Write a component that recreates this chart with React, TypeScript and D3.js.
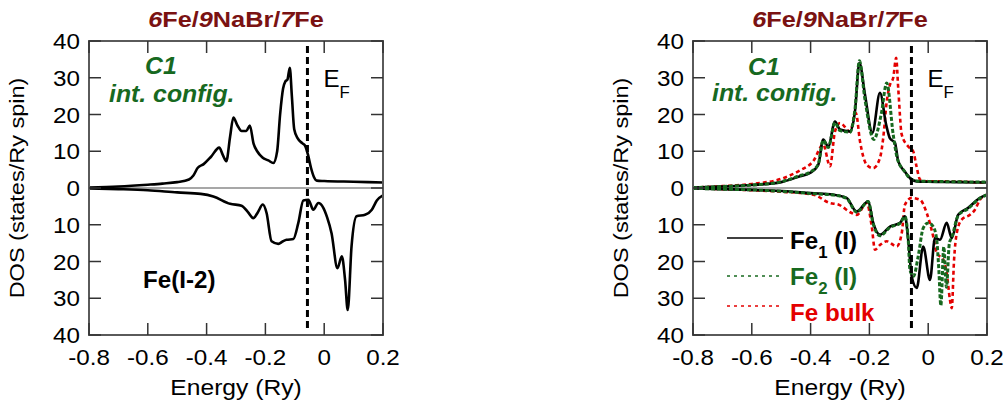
import React from "react";
import * as d3 from "d3";

const FONT = "'Liberation Sans', Arial, Helvetica, sans-serif";
const GREEN = "#17691f";
const RED = "#e40000";
const TITLE = "#7a1212";

const xTicks = [-0.8, -0.6, -0.4, -0.2, 0, 0.2];
const xTickLabels = ["-0.8", "-0.6", "-0.4", "-0.2", "0", "0.2"];
const yTicks = [40, 30, 20, 10, 0, -10, -20, -30, -40];
const yTickLabels = ["40", "30", "20", "10", "0", "10", "20", "30", "40"];
const eFermi = -0.057;

// left panel, Fe(I-2)
const leftUpE = [-0.8, -0.7, -0.6, -0.55, -0.5, -0.46, -0.445, -0.43, -0.41, -0.385, -0.357, -0.345, -0.333, -0.32, -0.309, -0.295, -0.281, -0.265, -0.253, -0.24, -0.228, -0.21, -0.19, -0.173, -0.16, -0.15, -0.14, -0.132, -0.125, -0.117, -0.11, -0.102, -0.09, -0.075, -0.065, -0.055, -0.045, -0.035, -0.025, 0, 0.1, 0.2];
const leftUpV = [0.1, 0.4, 0.9, 1.2, 1.6, 2.3, 3.4, 5.5, 6.5, 8.5, 11, 9, 7.3, 14, 19.2, 17, 15.5, 15.5, 17, 12, 10, 8.3, 7.5, 6.8, 10, 20, 27, 29, 29.5, 32.7, 25, 16, 13.5, 12.2, 11.5, 9, 5.5, 3, 2, 1.9, 1.7, 1.5];
const leftDnE = [-0.8, -0.7, -0.6, -0.5, -0.42, -0.377, -0.32, -0.281, -0.26, -0.241, -0.225, -0.209, -0.196, -0.179, -0.156, -0.14, -0.128, -0.105, -0.088, -0.071, -0.054, -0.037, -0.02, -0.003, 0.01, 0.025, 0.045, 0.06, 0.071, 0.08, 0.093, 0.11, 0.139, 0.162, 0.179, 0.2];
const leftDnV = [0.1, 0.3, 0.6, 1.2, 1.6, 2.3, 4.3, 4.8, 6.5, 8.2, 6.5, 4.5, 6.8, 14.5, 15.2, 14.5, 14.1, 13.9, 9.5, 3.4, 3.2, 5.9, 4.1, 5.4, 8, 12.3, 21.8, 18.6, 25, 33.2, 15.9, 7.7, 7.3, 5.9, 3.4, 2];

// right panel: Fe1 (I)
const fe1UpE = [-0.8, -0.7, -0.6, -0.5, -0.436, -0.402, -0.374, -0.357, -0.34, -0.317, -0.3, -0.266, -0.249, -0.234, -0.215, -0.19, -0.164, -0.143, -0.13, -0.113, -0.102, -0.08, -0.062, -0.039, 0, 0.1, 0.2];
const fe1UpV = [0.1, 0.4, 0.8, 1.6, 3.2, 4.1, 6.3, 13.2, 11.3, 18.1, 15.9, 15.4, 20.9, 34.1, 25.4, 15, 25.9, 17.2, 13.5, 12.3, 7.3, 4.5, 2.7, 1.8, 1.7, 1.6, 1.5];
const fe1DnE = [-0.8, -0.7, -0.6, -0.48, -0.4, -0.324, -0.278, -0.243, -0.204, -0.187, -0.164, -0.13, -0.096, -0.079, -0.068, -0.056, -0.039, -0.017, 0.006, 0.023, 0.04, 0.063, 0.08, 0.102, 0.136, 0.176, 0.2];
const fe1DnV = [0.1, 0.3, 0.5, 0.9, 1.4, 1.8, 2.7, 6.4, 3.6, 9.5, 12.7, 10.5, 9.5, 7.7, 14.1, 24.1, 27.2, 15.9, 25, 13.6, 14.1, 9.5, 13.6, 7.3, 5.4, 2.7, 1.8];

// Fe2 (I)
const fe2UpE = [-0.8, -0.7, -0.6, -0.5, -0.436, -0.402, -0.374, -0.357, -0.34, -0.317, -0.3, -0.266, -0.249, -0.234, -0.215, -0.185, -0.16, -0.141, -0.119, -0.105, -0.08, -0.062, -0.039, 0, 0.1, 0.2];
const fe2UpV = [0.1, 0.4, 0.8, 1.7, 3.4, 4.3, 6.5, 13, 11, 17.8, 15.6, 15.2, 21.5, 34.6, 24, 13.2, 20, 28.6, 14.5, 8, 4.5, 2.6, 1.9, 1.8, 1.7, 1.6];
const fe2DnE = [-0.8, -0.7, -0.6, -0.48, -0.4, -0.324, -0.278, -0.243, -0.204, -0.187, -0.164, -0.13, -0.096, -0.079, -0.068, -0.062, -0.05, -0.034, -0.017, 0, 0.017, 0.029, 0.036, 0.043, 0.053, 0.062, 0.072, 0.08, 0.102, 0.136, 0.176, 0.2];
const fe2DnV = [0.1, 0.3, 0.5, 1, 1.5, 1.9, 2.8, 6.6, 3.7, 9.8, 13, 10.7, 9.6, 7.8, 14, 22.3, 24, 18.6, 10.9, 9.5, 10.5, 14.1, 22, 32, 16, 27, 15, 13.5, 7.5, 5.6, 2.8, 1.9];

// Fe bulk
const bulkUpE = [-0.8, -0.7, -0.6, -0.5, -0.436, -0.391, -0.357, -0.334, -0.317, -0.3, -0.266, -0.246, -0.232, -0.209, -0.187, -0.164, -0.153, -0.141, -0.13, -0.119, -0.109, -0.102, -0.09, -0.068, -0.051, -0.04, -0.028, -0.015, 0.05, 0.2];
const bulkUpV = [0.1, 0.5, 1.1, 2.5, 4.8, 7.3, 11.8, 5.9, 15.4, 17.7, 15.4, 20.4, 12.7, 6.3, 5.4, 8.2, 13.6, 23.6, 28.1, 30, 35.4, 27.2, 14.5, 11.3, 10, 6, 2.3, 1.8, 1.8, 1.4];
const bulkDnE = [-0.8, -0.7, -0.6, -0.5, -0.391, -0.334, -0.306, -0.26, -0.243, -0.209, -0.192, -0.181, -0.164, -0.141, -0.107, -0.09, -0.079, -0.056, -0.028, -0.005, 0.017, 0.029, 0.051, 0.063, 0.074, 0.08, 0.088, 0.097, 0.114, 0.142, 0.159, 0.176, 0.2];
const bulkDnV = [0.1, 0.3, 0.6, 1, 1.8, 4.1, 4.5, 6.8, 7.3, 4.1, 10.5, 16.8, 15.5, 14.5, 15.9, 12.3, 4.5, 2.7, 3.2, 6.8, 13.2, 17.7, 19.5, 23.2, 30.4, 32.7, 19.5, 12.3, 8.6, 7.3, 5.9, 3.2, 1.8];

type Series = { e: number[]; v: number[]; sign: number; color: string; width: number; dash?: string };

const TOP = 41;
const BOTTOM = 335;

const Txt = ({ x, y, size, children, anchor = "start", weight = "normal", italic = false, fill = "#000", sx = 1, rotate = 0 }: any) => (
  <text
    transform={`translate(${x},${y}) rotate(${rotate}) scale(${sx},1)`}
    fontFamily={FONT}
    fontSize={size}
    fontWeight={weight}
    fontStyle={italic ? "italic" : "normal"}
    textAnchor={anchor}
    fill={fill}
  >
    {children}
  </text>
);

const Panel = ({ left, right, series, children }: { left: number; right: number; series: Series[]; children?: any }) => {
  const x = d3.scaleLinear().domain([-0.8, 0.2]).range([left, right]);
  const y = d3.scaleLinear().domain([-40, 40]).range([BOTTOM, TOP]);
  const cx = (left + right) / 2;
  const tick = 12;

  return (
    <g>
      <defs>
        <clipPath id={`clip${left}`}>
          <rect x={left} y={TOP} width={right - left} height={BOTTOM - TOP} />
        </clipPath>
      </defs>
      {/* title */}
      <Txt x={cx} y={27} size={22} weight="bold" anchor="middle" fill={TITLE} sx={1.15}>
        <tspan fontStyle="italic">6</tspan>Fe/<tspan fontStyle="italic">9</tspan>NaBr/<tspan fontStyle="italic">7</tspan>Fe
      </Txt>
      {/* zero line */}
      <line x1={left} x2={right} y1={y(0)} y2={y(0)} stroke="#8a8a8a" strokeWidth={1.5} />
      {/* curves */}
      <g clipPath={`url(#clip${left})`}>
        {series.map((s, k) => {
          const path = d3
            .line<number>()
            .x((d, i) => x(s.e[i]))
            .y((d) => y(s.sign * d))
            .curve(d3.curveMonotoneX)(s.v);
          return (
            <path key={k} d={path || ""} fill="none" stroke={s.color} strokeWidth={s.width} strokeDasharray={s.dash} strokeLinejoin="round" />
          );
        })}
      </g>
      {/* Fermi level */}
      <line x1={x(eFermi)} x2={x(eFermi)} y1={46} y2={329} stroke="#000" strokeWidth={3} strokeDasharray="7,4" />
      {/* frame */}
      <rect x={left} y={TOP} width={right - left} height={BOTTOM - TOP} fill="none" stroke="#5a5a5a" strokeWidth={2} />
      {xTicks.map((t, i) => (
        <g key={"x" + i}>
          <line x1={x(t)} x2={x(t)} y1={BOTTOM} y2={BOTTOM - tick} stroke="#333" strokeWidth={1.5} />
          <line x1={x(t)} x2={x(t)} y1={TOP} y2={TOP + tick} stroke="#333" strokeWidth={1.5} />
          <Txt x={x(t)} y={365} size={22} anchor="middle" sx={1.1}>
            {xTickLabels[i]}
          </Txt>
        </g>
      ))}
      {yTicks.map((t, i) => (
        <g key={"y" + i}>
          <line x1={left} x2={left + tick} y1={y(t)} y2={y(t)} stroke="#333" strokeWidth={1.5} />
          <line x1={right} x2={right - tick} y1={y(t)} y2={y(t)} stroke="#333" strokeWidth={1.5} />
          <Txt x={left - 9} y={y(t) + 8} size={22} anchor="end" sx={1.1}>
            {yTickLabels[i]}
          </Txt>
        </g>
      ))}
      <Txt x={cx} y={395} size={22} anchor="middle" sx={1.12}>
        Energy (Ry)
      </Txt>
      <Txt x={left - 65} y={188} size={21} anchor="middle" rotate={-90} sx={1.12}>
        DOS (states/Ry spin)
      </Txt>
      {/* E_F */}
      <Txt x={x(eFermi) + 16} y={87} size={23} sx={1.05}>
        E<tspan dy={11} fontSize={16}>F</tspan>
      </Txt>
      {children}
    </g>
  );
};

export default function App() {
  const leftSeries: Series[] = [
    { e: leftUpE, v: leftUpV, sign: 1, color: "#000", width: 2.6 },
    { e: leftDnE, v: leftDnV, sign: -1, color: "#000", width: 2.6 },
  ];
  const rightSeries: Series[] = [
    { e: bulkUpE, v: bulkUpV, sign: 1, color: RED, width: 2.6, dash: "4,3" },
    { e: bulkDnE, v: bulkDnV, sign: -1, color: RED, width: 2.6, dash: "4,3" },
    { e: fe1UpE, v: fe1UpV, sign: 1, color: "#000", width: 2.6 },
    { e: fe1DnE, v: fe1DnV, sign: -1, color: "#000", width: 2.6 },
    { e: fe2UpE, v: fe2UpV, sign: 1, color: GREEN, width: 3, dash: "4,2" },
    { e: fe2DnE, v: fe2DnV, sign: -1, color: GREEN, width: 3, dash: "4,2" },
  ];

  return (
    <svg width={1008} height={403} style={{ position: "absolute", left: 0, top: 0, background: "#fff" }}>
      <rect width={1008} height={403} fill="#fff" />
      <Panel left={89} right={383} series={leftSeries}>
        <Txt x={145} y={74} size={23} weight="bold" italic fill={GREEN} sx={1.08}>C1</Txt>
        <Txt x={109} y={102} size={23} weight="bold" italic fill={GREEN} sx={1.08}>int. config.</Txt>
        <Txt x={143} y={288} size={23} weight="bold" sx={1.05}>Fe(I-2)</Txt>
      </Panel>
      <Panel left={693} right={987} series={rightSeries}>
        <Txt x={748} y={75} size={23} weight="bold" italic fill={GREEN} sx={1.08}>C1</Txt>
        <Txt x={712} y={101} size={23} weight="bold" italic fill={GREEN} sx={1.08}>int. config.</Txt>
        <line x1={727} x2={783} y1={238} y2={238} stroke="#000" strokeWidth={1.5} />
        <line x1={727} x2={783} y1={276} y2={276} stroke={GREEN} strokeWidth={1.5} strokeDasharray="3,4" />
        <line x1={727} x2={783} y1={306} y2={306} stroke={RED} strokeWidth={1.5} strokeDasharray="3,4" />
        <Txt x={790} y={249} size={23} weight="bold" sx={1.05}>
          Fe<tspan dy={9} fontSize={16}>1</tspan><tspan dy={-9}> (I)</tspan>
        </Txt>
        <Txt x={790} y={285} size={23} weight="bold" fill={GREEN} sx={1.05}>
          Fe<tspan dy={9} fontSize={16}>2</tspan><tspan dy={-9}> (I)</tspan>
        </Txt>
        <Txt x={790} y={321} size={23} weight="bold" fill={RED} sx={1.05}>
          Fe bulk
        </Txt>
      </Panel>
    </svg>
  );
}
